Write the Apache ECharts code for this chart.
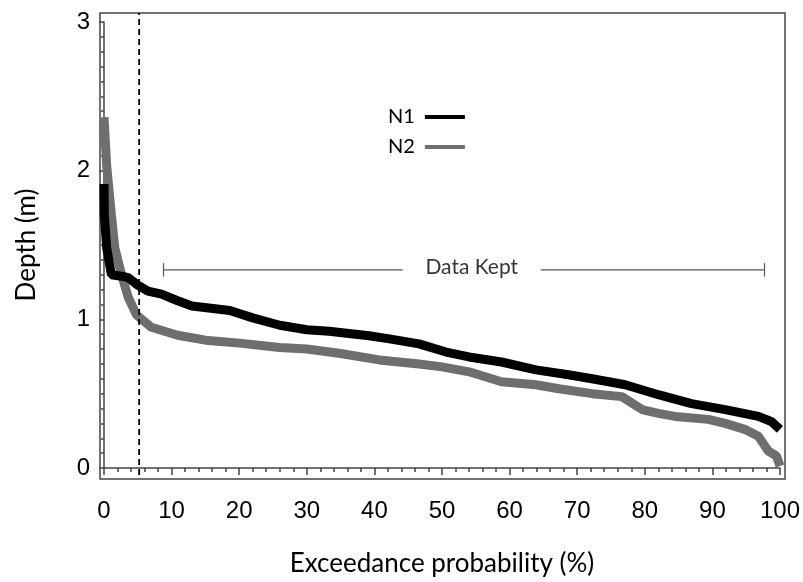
<!DOCTYPE html>
<html>
<head>
<meta charset="utf-8">
<script src="https://cdn.jsdelivr.net/npm/echarts@6/dist/echarts.min.js"></script>
<style>
html,body{margin:0;padding:0;background:#fff;}
#main{width:803px;height:582px;}
</style>
</head>
<body>
<div id="main"></div>
<script>
// exceedance probability (%) and depth (m)
var probN1=[0,0.05,0.4,1.1,2.6,3.6,5,6.5,8.5,10.9,13,18.6,22,26,30,33.3,39.2,42,46.6,50.6,54,58.8,63.9,68.7,72.2,77.1,82,86.9,91.9,96.8,98.7,100];
var depthN1=[1.91,1.7,1.48,1.3,1.29,1.28,1.23,1.19,1.17,1.125,1.09,1.06,1.01,0.96,0.93,0.92,0.89,0.87,0.835,0.78,0.747,0.713,0.66,0.627,0.6,0.56,0.493,0.433,0.393,0.347,0.313,0.26];
var probN2=[0,0.4,1.1,1.6,2.6,3.6,4.8,7,10.9,15,20,26,30,35,40.7,46.6,50,54,58.8,63.9,67.3,72.2,76.6,79.6,82,84.5,89.4,91.9,94.8,96.8,98.3,99.5,100];
var depthN2=[2.36,2.03,1.7,1.48,1.3,1.147,1.03,0.947,0.893,0.86,0.84,0.81,0.8,0.77,0.727,0.7,0.68,0.647,0.58,0.56,0.533,0.5,0.48,0.393,0.367,0.347,0.327,0.3,0.26,0.213,0.113,0.08,0.013];
var seriesNames=['N1','N2'];
var cutoff=5.2;           // dashed line
var cutoffSpan=[-0.047,3.06];
var keptFrom=8.75, keptTo=97.6, keptDepth=1.333;
var keptGapLeft=44.2, keptGapRight=64.6;
var xTicks={min:0,max:100,interval:10};
var yTicks={min:0,max:3,interval:1};

function pairs(xs,ys){
	var out=[];
	for(var i=0;i<xs.length;i++){
		out.push([xs[i],ys[i]]);
	}
	return out;
}

var tickFont='Liberation Sans';
var textFont='Lato';

var myChart=echarts.init(document.getElementById('main'));
var option={
	animation:false,
	grid:{left:104,right:21,top:22,bottom:110},
	legend:{
		orient:'vertical',
		left:383,
		top:101,
		align:'right',
		icon:'rect',
		itemWidth:40,
		itemHeight:4,
		itemGap:8,
		data:seriesNames,
		textStyle:{fontFamily:textFont,fontSize:20,color:'#000',lineHeight:22,padding:[0,5,0,0]}
	},
	xAxis:{
		type:'value',
		min:xTicks.min,max:xTicks.max,interval:xTicks.interval,
		offset:7,
		splitLine:{show:false},
		axisLine:{lineStyle:{color:'#444',width:1.5}},
		axisTick:{length:7,lineStyle:{color:'#444',width:1.5}},
		minorTick:{show:true,splitNumber:5,length:4,lineStyle:{color:'#444',width:1.5}},
		axisLabel:{fontFamily:tickFont,fontSize:24,color:'#000',margin:24},
		name:'Exceedance probability (%)',
		nameLocation:'middle',
		nameGap:76,
		nameTextStyle:{fontFamily:textFont,fontSize:26,color:'#000'}
	},
	yAxis:{
		type:'value',
		min:yTicks.min,max:yTicks.max,interval:yTicks.interval,
		offset:4,
		splitLine:{show:false},
		axisLine:{show:true,lineStyle:{color:'#444',width:1.5}},
		axisTick:{show:true,length:5,lineStyle:{color:'#444',width:1.5}},
		minorTick:{show:true,splitNumber:10,length:3,lineStyle:{color:'#444',width:1.5}},
		axisLabel:{fontFamily:tickFont,fontSize:24,color:'#000',margin:10},
		name:'Depth (m)',
		nameLocation:'middle',
		nameGap:60,
		nameTextStyle:{fontFamily:textFont,fontSize:26,color:'#000'}
	},
	graphic:[{
		type:'rect',
		shape:{x:100,y:13,width:685,height:466},
		style:{fill:'none',stroke:'#444',lineWidth:1.5},
		silent:true
	}],
	series:[
		{
			name:'N1',type:'line',showSymbol:false,clip:false,z:4,
			data:pairs(probN1,depthN1),
			itemStyle:{color:'#000'},
			lineStyle:{color:'#000',width:9}
		},
		{
			name:'N2',type:'line',showSymbol:false,clip:false,z:3,
			data:pairs(probN2,depthN2),
			itemStyle:{color:'#6e6e6e'},
			lineStyle:{color:'#6e6e6e',width:9}
		},
		{
			name:'cutoff',type:'line',showSymbol:false,clip:false,silent:true,z:5,
			data:[[cutoff,cutoffSpan[0]],[cutoff,cutoffSpan[1]]],
			lineStyle:{color:'#000',type:[6,4],width:1.8}
		},
		{
			name:'kept',type:'line',showSymbol:false,silent:true,z:2,
			lineStyle:{color:'#555',width:1.2},
			connectNulls:false,
			data:[[keptFrom,keptDepth],[keptGapLeft,keptDepth],null,[keptGapRight,keptDepth],[keptTo,keptDepth]],
			markLine:{
				silent:true,symbol:['none','none'],label:{show:false},
				lineStyle:{color:'#555',type:'solid',width:1.2},
				data:[
					[{coord:[keptFrom,keptDepth-0.045]},{coord:[keptFrom,keptDepth+0.045]}],
					[{coord:[keptTo,keptDepth-0.045]},{coord:[keptTo,keptDepth+0.045]}]
				]
			}
		},
		{
			name:'keptLabel',type:'scatter',symbolSize:0,silent:true,
			data:[[(keptGapLeft+keptGapRight)/2,keptDepth]],
			label:{show:true,position:'inside',formatter:'Data Kept',fontFamily:textFont,fontSize:21,color:'#000',offset:[0,-3]}
		}
	]
};
myChart.setOption(option);
</script>
</body>
</html>
